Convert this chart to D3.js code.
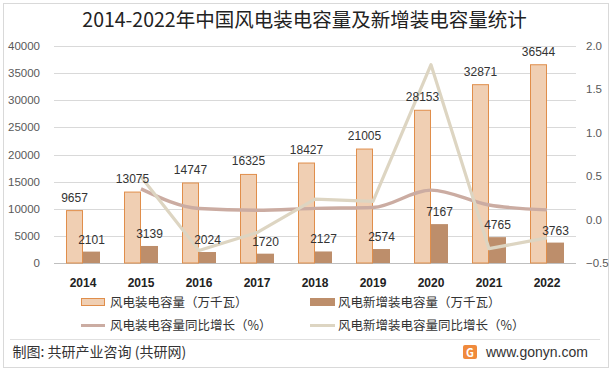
<!DOCTYPE html>
<html><head><meta charset="utf-8">
<script src="https://cdn.jsdelivr.net/npm/d3@7"></script>
<style>body{margin:0;background:#fff;}svg{display:block;font-family:"Noto Sans CJK SC","Noto Sans",sans-serif;}</style>
</head><body><svg id="c" width="612" height="371"></svg>
<script>
const years = ["2014","2015","2016","2017","2018","2019","2020","2021","2022"];
const totalCap = [9657,13075,14747,16325,18427,21005,28153,32871,36544];
const newCap = [2101,3139,2024,1720,2127,2574,7167,4765,3763];
const totalGrowth = [null,0.354,0.128,0.107,0.129,0.140,0.340,0.168,0.112];
const newGrowth = [null,0.494,-0.355,-0.150,0.237,0.210,1.784,-0.335,-0.210];
const leftTicks = [0,5000,10000,15000,20000,25000,30000,35000,40000];
const rightTicks = [-0.5,0,0.5,1.0,1.5,2.0];
const legendNames = ["风电装电容量（万千瓦）","风电新增装电容量（万千瓦）","风电装电容量同比增长（%）","风电新增装电容量同比增长（%）"];

const svg = d3.select("#c");
const L=54,R=576,T=46,B=263;
svg.append("rect").attr("x",3.5).attr("y",3.5).attr("width",605).attr("height",364).attr("fill","#fff").attr("stroke","#d9d9d9");
svg.append("text").attr("x",304.5).attr("y",27).attr("text-anchor","middle").attr("font-size",19.5).attr("fill","#222").text("2014-2022年中国风电装电容量及新增装电容量统计");

const x = d3.scaleBand().domain(years).range([L,R]);
const y = d3.scaleLinear().domain([0,40000]).range([B,T]);
const y2 = d3.scaleLinear().domain([-0.5,2.0]).range([B,T]);

// grid
svg.append("g").selectAll("line").data(leftTicks).join("line")
  .attr("x1",L).attr("x2",R).attr("y1",d=>Math.round(y(d))+0.5).attr("y2",d=>Math.round(y(d))+0.5)
  .attr("stroke",d=>d===0?"#bfbfbf":"#d9d9d9");
svg.append("g").selectAll("text").data(leftTicks).join("text")
  .attr("x",40).attr("y",d=>y(d)+4).attr("text-anchor","end").attr("font-size",11.5).attr("fill","#595959").attr("font-family","Liberation Sans, Arial").text(d=>d);
svg.append("g").selectAll("text").data(rightTicks).join("text")
  .attr("x",586).attr("y",d=>y2(d)+4).attr("text-anchor","start").attr("font-size",11.5).attr("fill","#595959").attr("font-family","Liberation Sans, Arial").text(d=>d3.format(".1f")(d));

const bw=17;
const g = svg.append("g");
g.selectAll("rect.t").data(years).join("rect")
  .attr("x",(d)=>x(d)+x.bandwidth()/2-bw+0.5).attr("width",bw-1)
  .attr("y",(d,i)=>y(totalCap[i])).attr("height",(d,i)=>B-y(totalCap[i]))
  .attr("fill","#f0cfb3").attr("stroke","#e08e4b").attr("stroke-width",1);
g.selectAll("rect.n").data(years).join("rect")
  .attr("x",(d)=>x(d)+x.bandwidth()/2).attr("width",bw)
  .attr("y",(d,i)=>y(newCap[i])).attr("height",(d,i)=>B-y(newCap[i]))
  .attr("fill","#bd8e6b");

// lines
const pts1 = years.map((d,i)=>[x(d)+x.bandwidth()/2,totalGrowth[i]]).filter(p=>p[1]!==null);
const pts2 = years.map((d,i)=>[x(d)+x.bandwidth()/2,newGrowth[i]]).filter(p=>p[1]!==null);
svg.append("path").attr("d",d3.line().x(p=>p[0]).y(p=>y2(p[1])).curve(d3.curveMonotoneX)(pts1))
  .attr("fill","none").attr("stroke","#cbaca2").attr("stroke-width",3.4).attr("stroke-linejoin","round");
svg.append("path").attr("d",d3.line().x(p=>p[0]).y(p=>y2(p[1]))(pts2))
  .attr("fill","none").attr("stroke","#ddd5c2").attr("stroke-width",3.2).attr("stroke-linejoin","round");

// value labels
svg.append("g").selectAll("text").data(years).join("text")
  .attr("x",d=>x(d)+x.bandwidth()/2-bw/2).attr("y",(d,i)=>y(totalCap[i])-9)
  .attr("text-anchor","middle").attr("font-size",12).attr("fill","#333").attr("font-family","Liberation Sans, Arial").text((d,i)=>totalCap[i]);
svg.append("g").selectAll("text").data(years).join("text")
  .attr("x",d=>x(d)+x.bandwidth()/2+bw/2).attr("y",(d,i)=>y(newCap[i])-8)
  .attr("text-anchor","middle").attr("font-size",12).attr("fill","#333").attr("font-family","Liberation Sans, Arial").text((d,i)=>newCap[i]);

// x labels
svg.append("g").selectAll("text").data(years).join("text")
  .attr("x",d=>x(d)+x.bandwidth()/2).attr("y",287).attr("text-anchor","middle")
  .attr("font-size",12).attr("font-weight","bold").attr("fill","#222").attr("font-family","Liberation Sans, Arial").text(d=>d);

// legend
const lg = svg.append("g").attr("font-size",12.5).attr("fill","#333");
const lpos=[[81,302],[310,302],[81,325],[310,325]];
lg.append("rect").attr("x",81.5).attr("y",298.5).attr("width",23).attr("height",7).attr("fill","#f0cfb3").attr("stroke","#e08e4b");
lg.append("rect").attr("x",310).attr("y",298).attr("width",25).attr("height",8).attr("fill","#bd8e6b");
lg.append("line").attr("x1",81).attr("x2",105).attr("y1",325.5).attr("y2",325.5).attr("stroke","#cbaca2").attr("stroke-width",3);
lg.append("line").attr("x1",310).attr("x2",335).attr("y1",325.5).attr("y2",325.5).attr("stroke","#ddd5c2").attr("stroke-width",3);
lg.selectAll("text").data(legendNames).join("text")
  .attr("x",(d,i)=>lpos[i][0]+(i%2?28:29)).attr("y",(d,i)=>lpos[i][1]+4.5).attr("fill","#333").text(d=>d);

// footer
svg.append("line").attr("x1",10).attr("x2",600).attr("y1",339.5).attr("y2",339.5).attr("stroke","#e0e0e0");
svg.append("text").attr("x",12.5).attr("y",357).attr("font-size",14).attr("fill","#333").text("制图: 共研产业咨询 (共研网)");
const lgx=463, lgy=345;
svg.append("rect").attr("x",lgx).attr("y",lgy).attr("width",14).attr("height",14).attr("rx",2).attr("fill","#f08a3c");
svg.append("text").attr("x",lgx+7).attr("y",lgy+11.5).attr("text-anchor","middle").attr("font-size",11).attr("font-weight","bold").attr("fill","#fff").text("G");
svg.append("text").attr("x",486).attr("y",357).attr("text-anchor","start").attr("font-size",14).attr("fill","#333").attr("font-family","Liberation Sans, Arial").text("www.gonyn.com");
</script></body></html>
